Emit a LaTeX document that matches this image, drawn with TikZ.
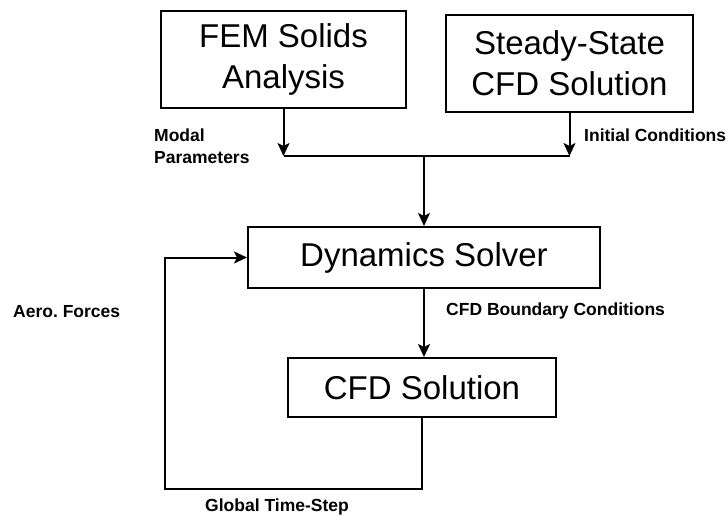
\documentclass[tikz,border=0pt]{standalone}
\usepackage{fontspec}
\setmainfont{Liberation Sans}
\usetikzlibrary{arrows.meta}
\frenchspacing
\begin{document}
\begin{tikzpicture}[x=1pt,y=-1pt,
  box/.style={draw,line width=2pt,inner sep=0pt,align=center,font=\fontsize{33}{41}\selectfont},
  lbl/.style={inner sep=0pt,font=\fontsize{17.5}{22}\selectfont\bfseries},
  conn/.style={line width=2pt},
  arr/.style={conn,-{Stealth[length=13pt,width=12pt,inset=3pt]}}]
\useasboundingbox (0,0) rectangle (728,516);
\node[box,minimum width=245pt,minimum height=97pt] (fem) at (283.5,59.5) {FEM Solids\\Analysis};
\node[box,minimum width=247pt,minimum height=97pt] (ss) at (569.5,63.5) {Steady-State\\CFD Solution};
\node[box,minimum width=352pt,minimum height=61pt] (dyn) at (424,257.5) {Dynamics Solver};
\node[box,minimum width=268pt,minimum height=59pt] (cfd) at (422,387.5) {CFD Solution};
\coordinate (jm) at (424,156);
\coordinate (lb) at (165,489);
\node[lbl,anchor=north west,align=left] (modal) at (154,129) {Modal\\Parameters};
\node[lbl,anchor=west] (init) at (584,135) {Initial Conditions};
\node[lbl,anchor=west] (bc) at (446,311) {CFD Boundary Conditions};
\node[lbl,anchor=west] (aero) at (13,312) {Aero.\ Forces};
\node[lbl] (gts) at (277,507) {Global Time-Step};
\draw[arr] (fem.south) -- (fem.south |- jm);
\draw[arr] (ss.south) -- (ss.south |- jm);
\draw[conn] (fem.south |- jm) -- (ss.south |- jm);
\draw[arr] (jm) -- (dyn.north);
\draw[arr] (dyn.south) -- (dyn.south |- cfd.north);
\draw[arr] (cfd.south) |- (lb) |- (dyn.west);
\end{tikzpicture}
\end{document}
